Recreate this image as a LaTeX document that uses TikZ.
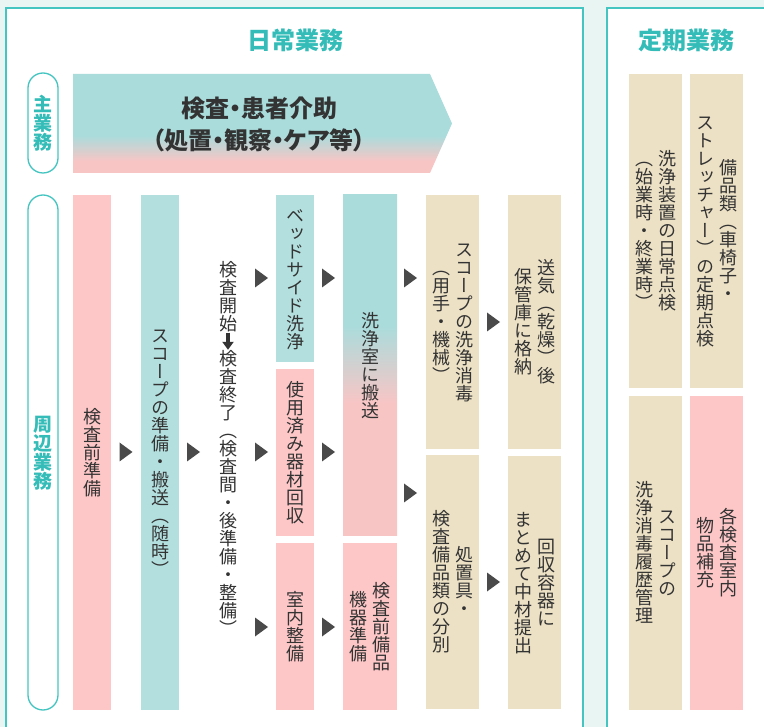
\documentclass[tikz,border=0pt]{standalone}
\usepackage{fontspec}
\usetikzlibrary{arrows.meta}
\newfontfamily\jpfont{Noto Sans CJK JP}
\newfontfamily\jppfont[RawFeature=+palt]{Noto Sans CJK JP}
\newfontfamily\tatefont[RawFeature=+vert]{Noto Sans CJK JP}
\definecolor{bgc}{HTML}{E8F5F3}
\definecolor{tealline}{HTML}{45C5C1}
\definecolor{titlec}{HTML}{33BCB8}
\definecolor{tealb}{HTML}{B3E0DF}
\definecolor{tealA}{HTML}{AADCDC}
\definecolor{pinkc}{HTML}{FEC7C7}
\definecolor{pinkA}{HTML}{F8C5C5}
\definecolor{beigec}{HTML}{ECE1C5}
\definecolor{arrowc}{HTML}{4A4A4A}
\definecolor{txtc}{HTML}{333333}
\pgfdeclareverticalshading{gradA}{100bp}{color(0bp)=(pinkA); color(31bp)=(pinkA); color(44bp)=(tealA); color(100bp)=(tealA)}
\pgfdeclareverticalshading{gradB}{100bp}{color(0bp)=(pinkA); color(44.5bp)=(pinkA); color(56bp)=(tealA); color(100bp)=(tealA)}
\newcommand\myvfont{\tatefont\fontsize{18}{23}\selectfont}
\def\vcharsend{}
\def\vcharsloop#1{\ifx#1\vcharsend\else\hbox to 1em{\hss\vrule height .88em depth .12em width 0pt\relax #1\hss}\expandafter\vcharsloop\fi}
\newcommand\vcol[1]{\vbox{\offinterlineskip\vcharsloop#1\vcharsend}}
\newcommand\vcolii[2]{$\vcenter{\vcol{#2}}\hskip5pt\vcenter{\vcol{#1}}$}
\tikzset{
  panel/.style={draw=tealline, line width=1.5pt, fill=white},
  vbox/.style n args={3}{minimum width=#1, minimum height=#2, #3, inner sep=0pt, outer sep=0pt, font=\myvfont, text=txtc},
  vtxt/.style={inner sep=0pt, font=\myvfont, text=txtc},
  pill/.style={minimum width=30, rounded corners=15pt, draw=tealline, line width=1.3pt, fill=white, inner sep=0pt, font=\tatefont\bfseries\fontsize{19}{22}\selectfont, text=titlec},
  title/.style={font=\jpfont\bfseries\fontsize{24}{28}\selectfont, text=titlec, inner sep=0pt},
  bannertxt/.style={font=\jppfont\bfseries\fontsize{24}{32}\selectfont, text=txtc, align=center, inner sep=0pt},
  bigdown/.style={draw=txtc, line width=4pt, -{Triangle[width=11pt,length=8pt]}},
  tri/.pic={\fill[arrowc] (-6.5,-9.5) -- (6.5,0) -- (-6.5,9.5) -- cycle;}
}
\begin{document}
\begin{tikzpicture}[x=1pt,y=-1pt]
\useasboundingbox (0,0) rectangle (764,727);
\fill[bgc] (0,0) rectangle (764,727);
\draw[panel] (6,8) rectangle (583,745);
\draw[panel] (607,8) rectangle (790,745);
\node[title] (t1) at (295,40) {日常業務};
\node[title] (t2) at (686,40) {定期業務};
% main row
\node[pill, minimum height=100] (p1) at (43,123) {\vcol{主業務}};
\shade[shading=gradA] (73,74) -- (430,74) -- (452,123.5) -- (430,173) -- (73,173) -- cycle;
\node[bannertxt] (main) at (259,124) {検査・患者介助\\（処置・観察・ケア等）};
% peripheral
\node[pill, minimum height=515] (p2) at (43,452.5) {\vcol{周辺業務}};
\node[vbox={38}{515}{fill=pinkc}] (b1) at (92,452.5) {\vcol{検査前準備}};
\node[vbox={38}{515}{fill=tealb}] (b2) at (160,452.5) {\vcol{スコープの準備・搬送（随時）}};
\node[vtxt] (c3a) at (228,296.5) {\vcol{検査開始}};
\node[vtxt] (c3b) at (228,494) {\vcol{検査終了（検査間・後準備・整備）}};
\draw[bigdown] (c3a) -- (c3b);
\node[vbox={38}{167}{fill=tealb}] (b4a) at (295,278.5) {\vcol{ベッドサイド洗浄}};
\node[vbox={38}{167}{fill=pinkc}] (b4b) at (295,452.5) {\vcol{使用済み器材回収}};
\node[vbox={38}{167}{fill=pinkc}] (b4c) at (295,626.5) {\vcol{室内整備}};
\shade[shading=gradB] (343,195) rectangle (397,536);
\node[vtxt] (b5a) at (370,366) {\vcol{洗浄室に搬送}};
\node[vbox={54}{167}{fill=pinkc}] (b5b) at (370,626.5) {\vcolii{検査前備品}{機器準備}};
\node[vbox={53}{254}{fill=beigec}] (b6a) at (452.5,322) {\vcolii{スコープの洗浄消毒}{（用手・機械）}};
\node[vbox={53}{254}{fill=beigec}] (b6b) at (452.5,582) {\vcolii{処置具・}{検査備品類の分別}};
\node[vbox={53}{254}{fill=beigec}] (b7a) at (534.5,322) {\vcolii{送気（乾燥）後}{保管庫に格納}};
\node[vbox={53}{253}{fill=beigec}] (b7b) at (534.5,582.5) {\vcolii{回収容器に}{まとめて中材提出}};
% periodic
\node[vbox={53}{314}{fill=beigec}] (r1) at (655.5,231) {\vcolii{洗浄装置の日常点検}{（始業時・終業時）}};
\node[vbox={53}{314}{fill=beigec}] (r2) at (716.5,231) {\vcolii{備品類（車椅子・}{ストレッチャー）の定期点検}};
\node[vbox={53}{314}{fill=beigec}] (r3) at (655.5,553) {\vcolii{スコープの}{洗浄消毒履歴管理}};
\node[vbox={53}{314}{fill=pinkc}] (r4) at (716.5,553) {\vcolii{各検査室内}{物品補充}};
% flow markers
\pic at (126,452) {tri};
\pic at (193.5,452) {tri};
\pic at (261.5,278) {tri};
\pic at (261.5,452) {tri};
\pic at (261.5,627) {tri};
\pic at (328.5,278) {tri};
\pic at (328.5,452) {tri};
\pic at (328.5,627) {tri};
\pic at (410.5,278) {tri};
\pic at (410.5,493) {tri};
\pic at (493.5,322) {tri};
\pic at (493.5,582) {tri};
\end{tikzpicture}
\end{document}
